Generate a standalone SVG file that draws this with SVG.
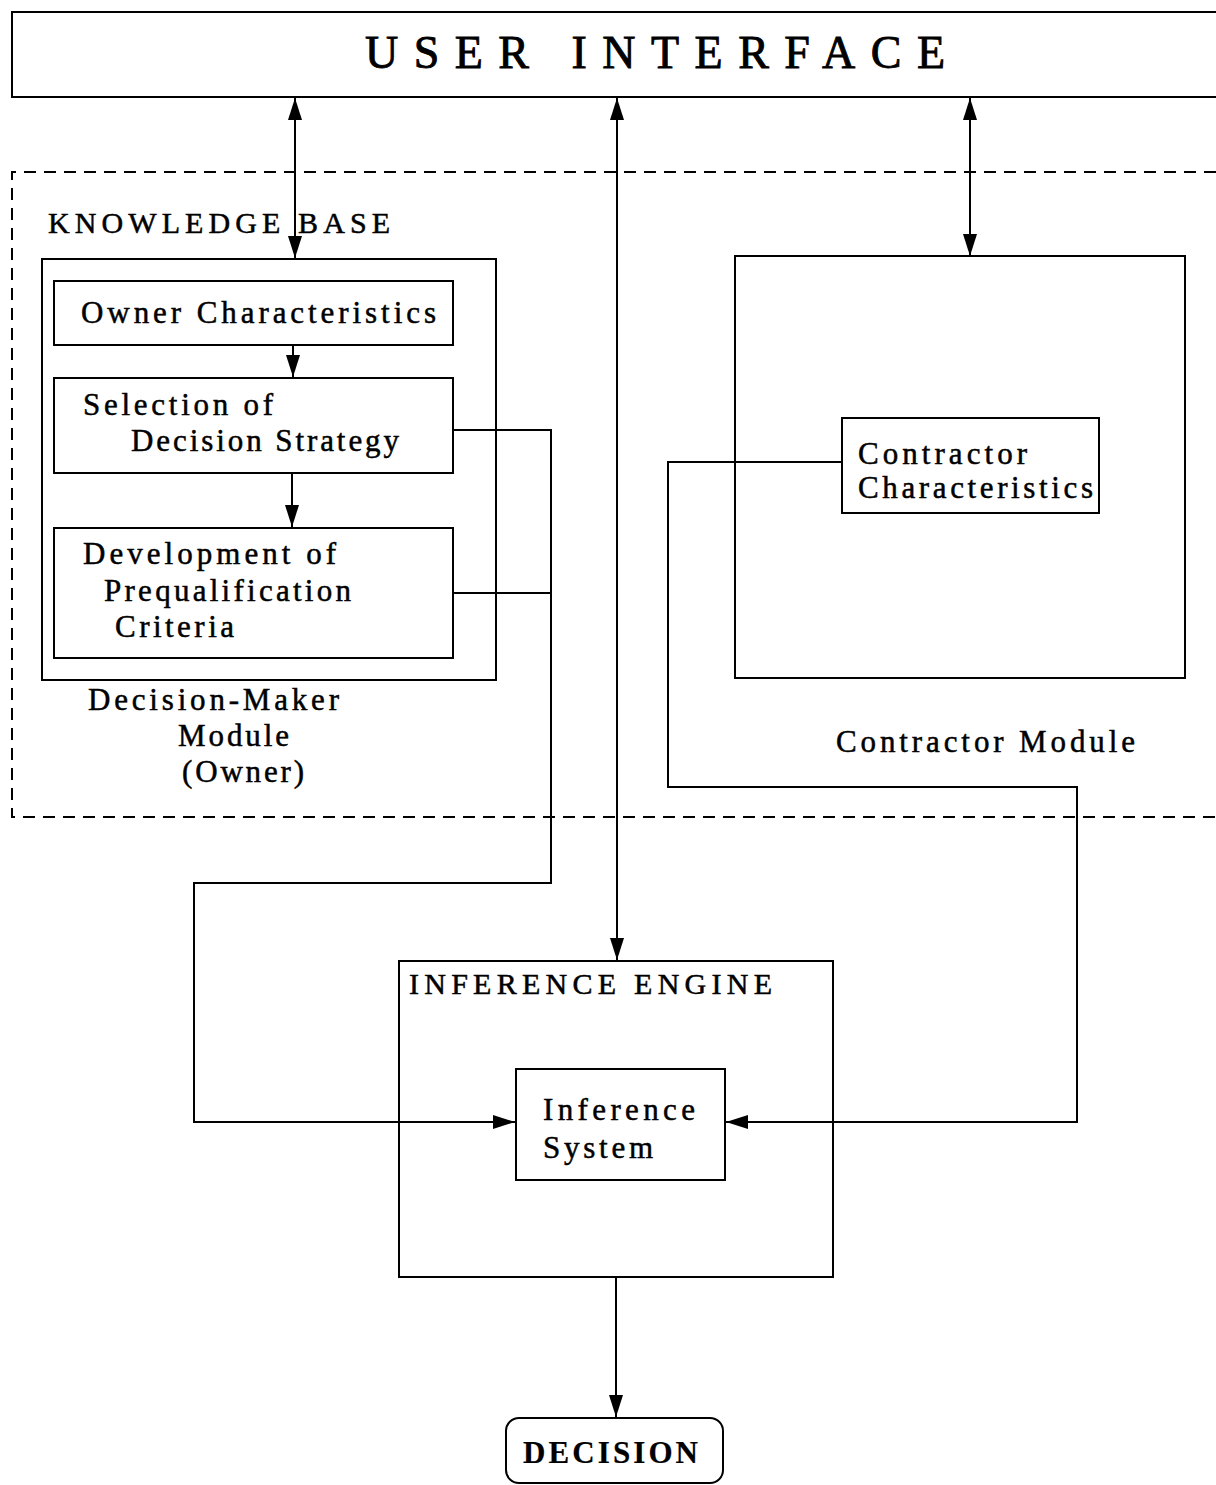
<svg xmlns="http://www.w3.org/2000/svg" width="1216" height="1485" viewBox="0 0 1216 1485">
<defs>
<style>
.b{fill:none;stroke:#000;stroke-width:2}
.c{fill:none;stroke:#000;stroke-width:2}
.d{fill:none;stroke:#000;stroke-width:2;stroke-dasharray:12 8}
text{font-family:"Liberation Serif","Times New Roman",serif;fill:#000;stroke:#000;stroke-width:0.5;font-size:31px}
.cap{font-size:30px}
.title{font-size:46px;stroke-width:0.9}
.dec{font-size:31px;font-weight:bold;stroke-width:0.2}
</style>
<marker id="ah2" viewBox="0 0 10 10" refX="10" refY="5" markerWidth="22" markerHeight="14" markerUnits="userSpaceOnUse" orient="auto-start-reverse" preserveAspectRatio="none">
<path d="M0,0 L10,5 L0,10 Z" fill="#000"/>
</marker>
</defs>
<rect width="1216" height="1485" fill="#fff"/>

<g id="user-interface">
<path class="b" d="M1216,12 L12,12 L12,97 L1216,97"/>
<text class="title" x="365" y="68" textLength="580" lengthAdjust="spacing">USER INTERFACE</text>
</g>

<g id="knowledge-base">
<path class="d" d="M1216,172 L12,172 L12,817 L1216,817"/>
<text class="cap" x="48" y="233" textLength="342" lengthAdjust="spacing">KNOWLEDGE BASE</text>
</g>

<g id="decision-maker-module">
<rect class="b" x="42" y="259" width="454" height="421"/>
<text x="88" y="710" textLength="251" lengthAdjust="spacing">Decision-Maker</text>
<text x="178" y="746" textLength="111" lengthAdjust="spacing">Module</text>
<text x="182" y="782" textLength="122" lengthAdjust="spacing">(Owner)</text>
</g>

<g id="owner-characteristics">
<rect class="b" x="54" y="281" width="399" height="64"/>
<text x="81" y="323" textLength="355" lengthAdjust="spacing">Owner Characteristics</text>
</g>

<g id="selection-strategy">
<rect class="b" x="54" y="378" width="399" height="95"/>
<text x="83" y="415" textLength="190" lengthAdjust="spacing">Selection of</text>
<text x="131" y="451" textLength="268" lengthAdjust="spacing">Decision Strategy</text>
</g>

<g id="prequalification-criteria">
<rect class="b" x="54" y="528" width="399" height="130"/>
<text x="83" y="564" textLength="253" lengthAdjust="spacing">Development of</text>
<text x="104" y="601" textLength="247" lengthAdjust="spacing">Prequalification</text>
<text x="115" y="637" textLength="119" lengthAdjust="spacing">Criteria</text>
</g>

<g id="contractor-module">
<rect class="b" x="735" y="256" width="450" height="422"/>
<text x="836" y="752" textLength="299" lengthAdjust="spacing">Contractor Module</text>
</g>

<g id="contractor-characteristics">
<rect class="b" x="842" y="418" width="257" height="95"/>
<text x="858" y="464" textLength="169" lengthAdjust="spacing">Contractor</text>
<text x="858" y="498" textLength="235" lengthAdjust="spacing">Characteristics</text>
</g>

<g id="inference-engine">
<rect class="b" x="399" y="961" width="434" height="316"/>
<text class="cap" x="409" y="994" textLength="363" lengthAdjust="spacing">INFERENCE ENGINE</text>
</g>

<g id="inference-system">
<rect class="b" x="516" y="1069" width="209" height="111"/>
<text x="543" y="1120" textLength="152" lengthAdjust="spacing">Inference</text>
<text x="543" y="1158" textLength="110" lengthAdjust="spacing">System</text>
</g>

<g id="decision">
<rect class="b" x="506" y="1418" width="217" height="65" rx="13"/>
<text class="dec" x="523" y="1463" textLength="175" lengthAdjust="spacing">DECISION</text>
</g>

<g id="connectors">
<line class="c" x1="295" y1="98" x2="295" y2="258" marker-start="url(#ah2)" marker-end="url(#ah2)"/>
<line class="c" x1="617" y1="98" x2="617" y2="960" marker-start="url(#ah2)" marker-end="url(#ah2)"/>
<line class="c" x1="970" y1="98" x2="970" y2="256" marker-start="url(#ah2)" marker-end="url(#ah2)"/>
<line class="c" x1="293" y1="345" x2="293" y2="377" marker-end="url(#ah2)"/>
<line class="c" x1="292" y1="473" x2="292" y2="527" marker-end="url(#ah2)"/>
<polyline class="c" points="453,430 551,430 551,883 194,883 194,1122 515,1122" marker-end="url(#ah2)"/>
<line class="c" x1="453" y1="593" x2="551" y2="593"/>
<polyline class="c" points="842,462 668,462 668,787 1077,787 1077,1122 726,1122" marker-end="url(#ah2)"/>
<line class="c" x1="616" y1="1277" x2="616" y2="1417" marker-end="url(#ah2)"/>
</g>
</svg>
